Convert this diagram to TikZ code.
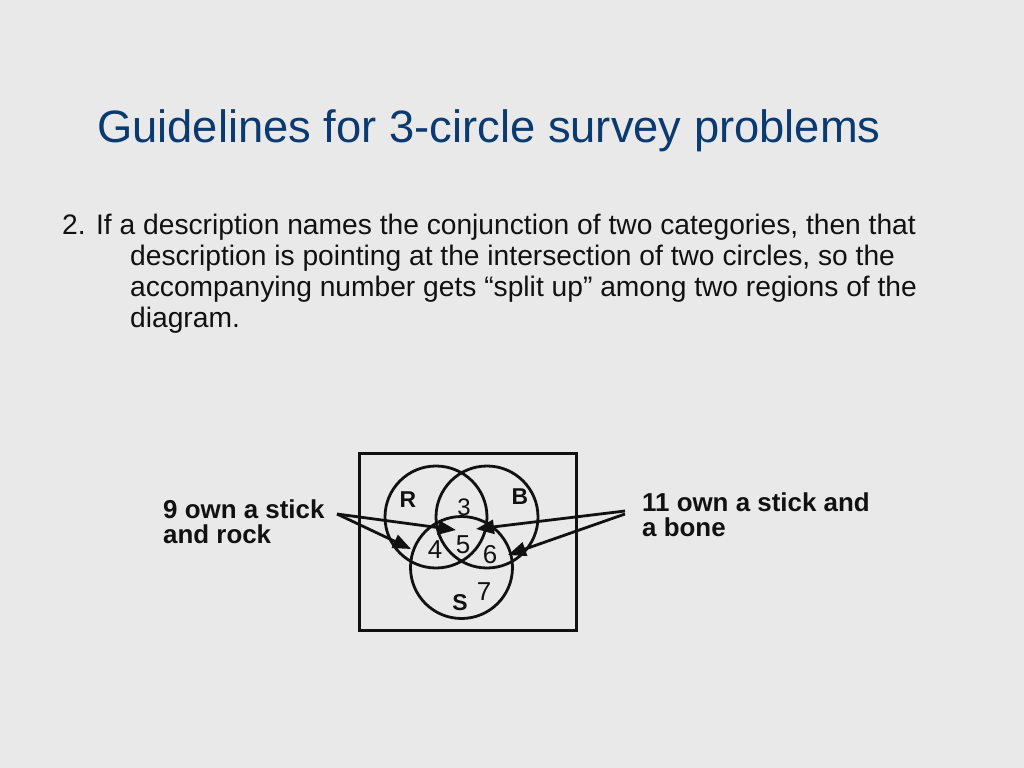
\documentclass[tikz,border=0pt]{standalone}
\usepackage{fontspec}
\setmainfont{Liberation Sans}
\usetikzlibrary{arrows.meta}
\definecolor{bg}{HTML}{E9E9E9}
\definecolor{titleblue}{HTML}{0A3A70}
\definecolor{ink}{HTML}{111111}
\tikzset{
  body/.style={anchor=base west, inner sep=0pt, text=ink, font=\fontsize{28.3}{31}\selectfont},
  lbl/.style={anchor=base west, inner sep=0pt, text=ink, font=\fontsize{26}{26}\selectfont\bfseries, align=left},
  setc/.style={circle, draw=ink, line width=2.8bp, minimum size=102bp, inner sep=0pt},
  num/.style={inner sep=0pt, text=ink, font=\fontsize{26}{26}\selectfont},
  setname/.style={inner sep=0pt, text=ink, font=\fontsize{23}{23}\selectfont\bfseries},
  pointer/.style={draw=ink, line width=2.8bp, -{Triangle[length=18bp,width=14bp]}}
}
\begin{document}
\begin{tikzpicture}[x=1bp,y=-1bp]
\fill[bg] (0,0) rectangle (1024,768);
\useasboundingbox (0,0) rectangle (1024,768);
% title
\node[anchor=base west, inner sep=0pt, text=titleblue, font=\fontsize{45.5}{50}\selectfont] (title) at (97,142) {Guidelines for 3-circle survey problems};
% body
\node[body] (l1) at (62,234) {2. If a description names the conjunction of two categories, then that};
\node[body] (l2) at (130,265) {description is pointing at the intersection of two circles, so the};
\node[body] (l3) at (130,296) {accompanying number gets “split up” among two regions of the};
\node[body] (l4) at (130,327) {diagram.};
% box
\node[draw=ink, line width=3.2bp, minimum width=217bp, minimum height=177bp, inner sep=0pt] (box) at (468,542) {};
% circles
\node[setc] (R) at (436,517) {};
\node[setc] (B) at (487,517) {};
\node[setc] (S) at (461.5,567.5) {};
% names and numbers
\node[setname] (nR) at (408,500) {R};
\node[setname] (nB) at (520,497) {B};
\node[setname] (nS) at (460,603) {S};
\node[num, font=\fontsize{24}{24}\selectfont] (n3) at (464,507) {3};
\node[num] (n4) at (435,550) {4};
\node[num] (n5) at (463,545) {5};
\node[num] (n6) at (490,555) {6};
\node[num] (n7) at (484,592) {7};
% labels
\node[lbl] (left1) at (163,518) {9 own a stick};
\node[lbl] (left2) at (163,543) {and rock};
\node[lbl] (right1) at (642,511) {11 own a stick and};
\node[lbl] (right2) at (642,536) {a bone};
% pointers
\coordinate (lt) at (337,514);
\coordinate (rt1) at (625,511);
\coordinate (rt2) at (625,514);
\coordinate (t45) at (456,530);
\coordinate (t4) at (411,549);
\coordinate (t56) at (476,529);
\coordinate (t6) at (508,555);
\draw[pointer] (lt) -- (t45);
\draw[pointer] (lt) -- (t4);
\draw[pointer] (rt1) -- (t56);
\draw[pointer] (rt2) -- (t6);
\end{tikzpicture}
\end{document}
